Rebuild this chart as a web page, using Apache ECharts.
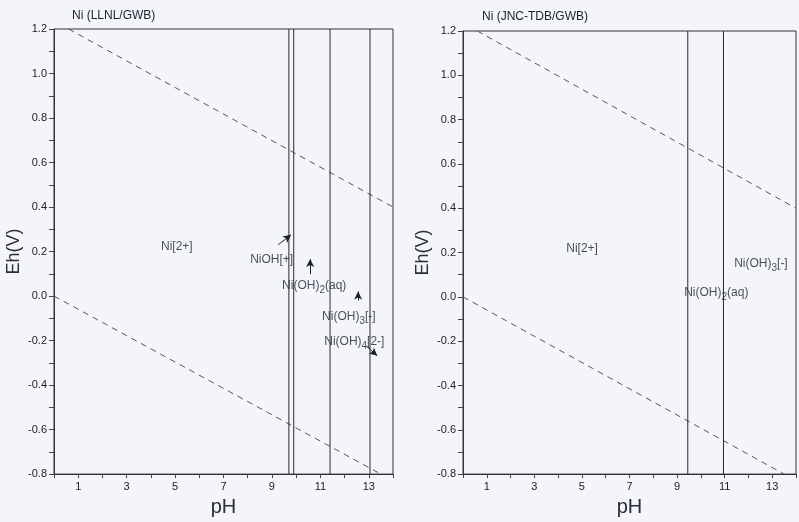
<!DOCTYPE html>
<html>
<head>
<meta charset="utf-8">
<script src="https://cdn.jsdelivr.net/npm/echarts@6/dist/echarts.min.js"></script>
<style>
html,body{margin:0;padding:0;background:#f3f5f9;}
#c{width:799px;height:522px;}
</style>
</head>
<body>
<div id="c"></div>
<script>
// ---------- data ----------
const titles = ['Ni (LLNL/GWB)', 'Ni (JNC-TDB/GWB)'];
const xTickValues = [1, 3, 5, 7, 9, 11, 13];
// water stability limits (pH, Eh) endpoints
const waterUpper = [[0.6, 1.2], [14, 0.40]];
const waterLower = [[0, 0.0], [13.5, -0.8]];
// vertical predominance boundaries (pH)
const leftBoundaries = [9.7, 9.9, 11.4, 13.05];
const rightBoundaries = [9.45, 10.95];
// species labels: [pH, Eh] of label start, text
const leftLabelPos = [[4.42, 0.222], [8.1, 0.165], [9.42, 0.047], [11.07, -0.094], [11.16, -0.205]];
const leftLabelText = ['Ni[2+]', 'NiOH[+]', 'Ni(OH){s|2}(aq)', 'Ni(OH){s|3}[-]', 'Ni(OH){s|4}[2-]'];
const rightLabelPos = [[4.34, 0.216], [11.4, 0.151], [9.3, 0.018]];
const rightLabelText = ['Ni[2+]', 'Ni(OH){s|3}[-]', 'Ni(OH){s|2}(aq)'];
// arrows: [from, to]
const leftArrows = [
  [[9.26, 0.231], [9.79, 0.275]],
  [[10.58, 0.098], [10.58, 0.166]],
  [[12.56, -0.02], [12.56, 0.02]],
  [[12.9, -0.225], [13.35, -0.268]]
];

// ---------- chart ----------
const ink = '#1c2030';
const font = 'Liberation Sans';
const chart = echarts.init(document.getElementById('c'));
const grids = [
  {left: 54, top: 29, width: 339, height: 452},
  {left: 463, top: 31, width: 339, height: 451}
];
const rich = {
  s: {fontSize: 10, color: ink, padding: [9, 0, 0, 0], fontFamily: font}
};
function xAxis(i) {
  return {
    type: 'value', gridIndex: i, min: 0, max: 14, interval: 1,
    name: 'pH', nameLocation: 'middle', nameGap: 16,
    nameTextStyle: {fontSize: 20, color: '#2a2d3a', fontFamily: font},
    axisLine: {show: true, onZero: false, lineStyle: {color: '#333', width: 1}},
    axisTick: {show: true, length: 4, lineStyle: {color: '#444'}},
    axisLabel: {
      fontSize: 11, color: '#222', margin: 7, fontFamily: font,
      formatter: v => xTickValues.indexOf(v) >= 0 ? String(v) : ''
    },
    splitLine: {show: false}
  };
}
function yAxis(i) {
  return {
    type: 'value', gridIndex: i, min: -0.8, max: 1.2, interval: 0.1,
    name: 'Eh(V)', nameLocation: 'middle', nameGap: 31, nameRotate: 90,
    nameTextStyle: {fontSize: 18, color: '#2a2d3a', fontFamily: font},
    axisLine: {show: true, onZero: false, lineStyle: {color: '#333', width: 1}},
    axisTick: {show: true, length: 5, lineStyle: {color: '#444'}},
    axisLabel: {
      fontSize: 11, color: '#222', margin: 7, fontFamily: font,
      formatter: v => (Math.abs(Math.round(v * 10)) % 2 === 0) ? (Math.round(v * 10) / 10).toFixed(1) : ''
    },
    splitLine: {show: false}
  };
}
const series = [];
function addPanel(i, bounds, labelPos, labelText, arrows) {
  [waterUpper, waterLower].forEach(w => series.push({
    type: 'line', xAxisIndex: i, yAxisIndex: i, data: w, symbol: 'none',
    lineStyle: {color: '#555', width: 1, type: [6, 5]}, silent: true
  }));
  bounds.forEach((b, k) => series.push({
    type: 'line', xAxisIndex: i, yAxisIndex: i, data: [[b, -0.8], [b, 1.2]], symbol: 'none',
    lineStyle: {color: '#2a2a2a', width: 1}, silent: true,
    markLine: (k === 0 && arrows) ? {
      silent: true, symbol: ['none', 'arrow'], symbolSize: [6, 8],
      label: {show: false},
      lineStyle: {color: ink, width: 1, type: 'solid'},
      data: arrows.map(a => [{coord: a[0]}, {coord: a[1]}])
    } : undefined
  }));
  series.push({
    type: 'scatter', xAxisIndex: i, yAxisIndex: i, symbolSize: 0, silent: true,
    data: labelPos.map((p, k) => ({value: p, name: labelText[k]})),
    label: {
      show: true, position: [0, 0], align: 'left', verticalAlign: 'middle',
      fontSize: 12, color: ink, fontFamily: font,
      formatter: p => p.name, rich: rich
    }
  });
}
addPanel(0, leftBoundaries, leftLabelPos, leftLabelText, leftArrows);
addPanel(1, rightBoundaries, rightLabelPos, rightLabelText, null);

chart.setOption({
  backgroundColor: '#f3f5f9',
  animation: false,
  title: [
    {text: titles[0], left: 67, top: 5, textStyle: {fontSize: 12, fontWeight: 'normal', color: ink, fontFamily: font}},
    {text: titles[1], left: 477, top: 6, textStyle: {fontSize: 12, fontWeight: 'normal', color: ink, fontFamily: font}}
  ],
  grid: grids.map(g => Object.assign({show: true, borderColor: '#333', borderWidth: 1, backgroundColor: 'transparent'}, g)),
  xAxis: [xAxis(0), xAxis(1)],
  yAxis: [yAxis(0), yAxis(1)],
  series: series
});
</script>
</body>
</html>
